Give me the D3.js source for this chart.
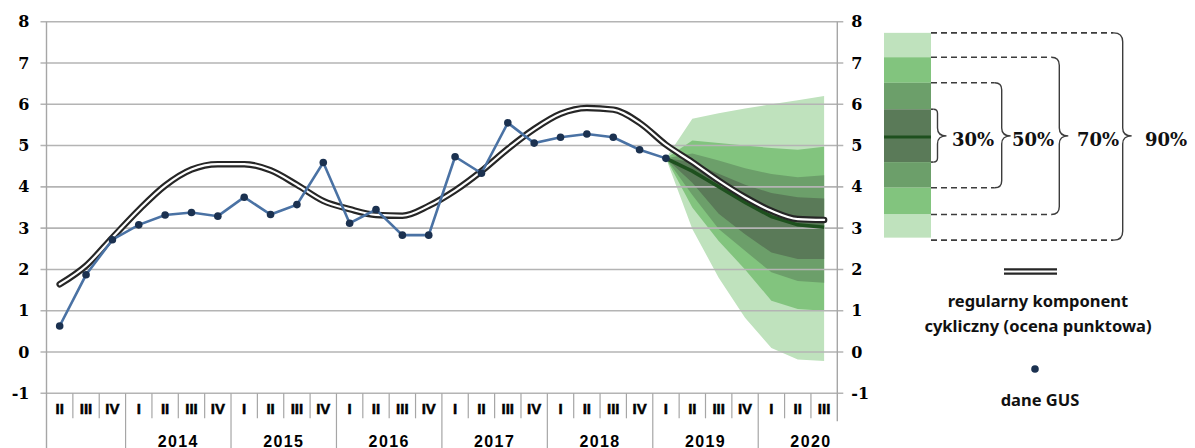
<!DOCTYPE html>
<html>
<head>
<meta charset="utf-8">
<script src="https://cdnjs.cloudflare.com/ajax/libs/d3/7.8.5/d3.min.js"></script>
<style>
body { margin: 0; background: #fff; }
svg { display: block; }
</style>
</head>
<body>
<script>
// quarters from 2013 Q2 to 2020 Q3
var quarters = ['II','III','IV',
  'I','II','III','IV', 'I','II','III','IV', 'I','II','III','IV',
  'I','II','III','IV', 'I','II','III','IV', 'I','II','III','IV',
  'I','II','III'];
var years = ['2014','2015','2016','2017','2018','2019','2020'];
var yearStart = [3, 7, 11, 15, 19, 23, 27];

// dane GUS
var gus = [0.63, 1.87, 2.72, 3.08, 3.32, 3.38, 3.29, 3.75, 3.33, 3.57, 4.59,
  3.12, 3.45, 2.83, 2.83, 4.73, 4.33, 5.55, 5.06, 5.20, 5.28, 5.20, 4.90, 4.69];

// regularny komponent cykliczny
var cycle = [1.64, 2.09, 2.77, 3.44, 4.03, 4.42, 4.55, 4.55, 4.40, 4.05, 3.66,
  3.46, 3.32, 3.30, 3.54, 3.91, 4.38, 4.92, 5.40, 5.77, 5.91, 5.87, 5.55,
  5.02, 4.60, 4.15, 3.75, 3.42, 3.22, 3.20];

// fan chart, from 2019 Q1
var fanFirst = 23;
var centre = [4.69, 4.38, 4.00, 3.62, 3.28, 3.08, 3.02];
var lo90 = [4.69, 2.98, 1.80, 0.83, 0.10, -0.18, -0.22];
var hi90 = [4.69, 5.65, 5.78, 5.90, 6.00, 6.10, 6.20];
var lo70 = [4.69, 3.50, 2.69, 2.00, 1.24, 1.04, 1.00];
var hi70 = [4.69, 5.12, 5.06, 5.00, 4.94, 4.90, 4.97];
var lo50 = [4.69, 3.80, 2.98, 2.45, 1.93, 1.72, 1.68];
var hi50 = [4.69, 4.81, 4.64, 4.45, 4.31, 4.23, 4.28];
var lo30 = [4.69, 4.10, 3.35, 2.85, 2.41, 2.25, 2.25];
var hi30 = [4.69, 4.60, 4.32, 4.05, 3.85, 3.75, 3.72];

// legend block, drawn on the same value scale
var legendEdges = [7.73, 7.14, 6.52, 5.88, 4.60, 3.98, 3.33, 2.77];
var legendCentre = 5.21;
var bandNames = ['30%', '50%', '70%', '90%'];

var colors = {c90: '#bfe2bd', c70: '#82c47e', c50: '#6c9f6a', c30: '#5a7a58', centre: '#1e501e'};

var width = 1195, height = 448;
var plotLeft = 46.5, plotRight = 837.3, plotTop = 21.7, plotBottom = 393.3;

var svg = d3.select('body').append('svg')
            .attr('width', width)
            .attr('height', height)
            .style('font-family', 'DejaVu Serif');

var x = d3.scaleBand().domain(d3.range(quarters.length)).range([plotLeft, plotRight]);
var xc = i => x(i) + x.bandwidth() / 2;
var y = d3.scaleLinear().domain([-1, 8]).range([plotBottom, plotTop]);

// fan
var fanIdx = d3.range(centre.length);
function band(lo, hi, col) {
  var area = d3.area()
    .x(i => xc(fanFirst + i))
    .y0(i => y(lo[i]))
    .y1(i => y(hi[i]));
  svg.append('path').datum(fanIdx).attr('d', area).attr('fill', col);
}
band(lo90, hi90, colors.c90);
band(lo70, hi70, colors.c70);
band(lo50, hi50, colors.c50);
band(lo30, hi30, colors.c30);

// gridlines and axes
svg.append('g').selectAll('line').data(y.ticks(9)).enter().append('line')
   .attr('x1', plotLeft - 6).attr('x2', plotRight + 6)
   .attr('y1', d => y(d)).attr('y2', d => y(d))
   .attr('stroke', '#b4b4b4').attr('stroke-width', 1.6);

var yl = svg.append('g').attr('transform', `translate(${plotLeft},0)`)
            .call(d3.axisLeft(y).ticks(9).tickSize(0).tickPadding(17).tickFormat(d => String(d)));
var yr = svg.append('g').attr('transform', `translate(${plotRight},0)`)
            .call(d3.axisRight(y).ticks(9).tickSize(0).tickPadding(14).tickFormat(d => String(d)));
[yl, yr].forEach(function(g) {
  g.select('.domain').remove();
  g.selectAll('text').attr('font-family', 'DejaVu Serif').attr('font-weight', 'bold')
   .attr('font-size', 16).attr('fill', '#000');
});

svg.append('line').attr('x1', plotLeft).attr('x2', plotLeft).attr('y1', plotTop).attr('y2', height)
   .attr('stroke', '#a6a6a6').attr('stroke-width', 1.4);
svg.append('line').attr('x1', plotRight).attr('x2', plotRight).attr('y1', plotTop).attr('y2', plotBottom + 28)
   .attr('stroke', '#a6a6a6').attr('stroke-width', 1.4);

// category axis
var cat = svg.append('g').attr('font-family', 'Liberation Sans').attr('font-weight', 'bold')
             .attr('fill', '#000');
cat.selectAll('line.q').data(d3.range(1, quarters.length)).enter().append('line')
   .attr('x1', d => x(d)).attr('x2', d => x(d))
   .attr('y1', plotBottom).attr('y2', d => yearStart.indexOf(d) >= 0 ? height : plotBottom + 25)
   .attr('stroke', '#a6a6a6').attr('stroke-width', 1.2);
cat.selectAll('text.q').data(quarters).enter().append('text')
   .attr('x', (d, i) => xc(i)).attr('y', plotBottom + 20.5)
   .attr('text-anchor', 'middle').attr('font-size', 15)
   .attr('stroke', '#000').attr('stroke-width', 0.5).text(d => d);
cat.selectAll('text.y').data(years).enter().append('text')
   .attr('x', (d, i) => x(yearStart[i]) + 2 * x.bandwidth()).attr('y', height - 1.5)
   .attr('text-anchor', 'middle').attr('font-size', 16).attr('letter-spacing', 1.4)
   .text(d => d);

// fan centre line
svg.append('path').datum(fanIdx)
   .attr('d', d3.line().x(i => xc(fanFirst + i)).y(i => y(centre[i])))
   .attr('fill', 'none').attr('stroke', colors.centre).attr('stroke-width', 3.5);

// cyclical component: double line
var cycleLine = d3.line().x((d, i) => xc(i)).y(d => y(d)).curve(d3.curveMonotoneX);
svg.append('path').datum(cycle).attr('d', cycleLine)
   .attr('fill', 'none').attr('stroke', '#262626').attr('stroke-width', 6.5)
   .attr('stroke-linecap', 'round');
svg.append('path').datum(cycle).attr('d', cycleLine)
   .attr('fill', 'none').attr('stroke', '#fff').attr('stroke-width', 2.2)
   .attr('stroke-linecap', 'round');

// GUS data
svg.append('path').datum(gus)
   .attr('d', d3.line().x((d, i) => xc(i)).y(d => y(d)))
   .attr('fill', 'none').attr('stroke', '#4a72a4').attr('stroke-width', 2.6);
svg.append('g').selectAll('circle').data(gus).enter().append('circle')
   .attr('cx', (d, i) => xc(i)).attr('cy', d => y(d)).attr('r', 3.8)
   .attr('fill', '#1b3150');

// legend block
var lx0 = 884, lx1 = 931;
var blocks = [
  [legendEdges[0], legendEdges[1], colors.c90],
  [legendEdges[1], legendEdges[2], colors.c70],
  [legendEdges[2], legendEdges[3], colors.c50],
  [legendEdges[3], legendEdges[4], colors.c30],
  [legendEdges[4], legendEdges[5], colors.c50],
  [legendEdges[5], legendEdges[6], colors.c70],
  [legendEdges[6], legendEdges[7], colors.c90]
];
svg.append('g').selectAll('rect').data(blocks).enter().append('rect')
   .attr('x', lx0).attr('width', lx1 - lx0)
   .attr('y', d => y(d[0])).attr('height', d => y(d[1]) - y(d[0]))
   .attr('fill', d => d[2]);
svg.append('line').attr('x1', lx0).attr('x2', lx1)
   .attr('y1', y(legendCentre)).attr('y2', y(legendCentre))
   .attr('stroke', colors.centre).attr('stroke-width', 3);

// braces
var braceX = [937.5, 1001.7, 1059.3, 1122.7];
var braceR = [4, 7, 8, 9];
var textX = [952, 1012, 1077, 1145];
var braceTop = [legendEdges[3], legendEdges[2], legendEdges[1], legendEdges[0]];
var braceBot = [legendEdges[4], legendEdges[5], legendEdges[6], legendEdges[7]];
var mid = y(legendCentre) - 1;
bandNames.forEach(function(name, k) {
  var xv = braceX[k], r = braceR[k], t = y(braceTop[k]), b = y(braceBot[k]) + (k == 3 ? 2.5 : 0);
  var tip = xv + 9;
  var p = d3.path();
  p.moveTo(xv - r, t);
  p.quadraticCurveTo(xv, t, xv, t + r);
  p.lineTo(xv, mid - 8);
  p.quadraticCurveTo(xv, mid, tip, mid);
  p.quadraticCurveTo(xv, mid, xv, mid + 8);
  p.lineTo(xv, b - r);
  p.quadraticCurveTo(xv, b, xv - r, b);
  svg.append('path').attr('d', p.toString())
     .attr('fill', 'none').attr('stroke', '#3c3c3c').attr('stroke-width', 1.4);
  [t, b].forEach(function(yy) {
    svg.append('line').attr('x1', lx1).attr('x2', xv - r).attr('y1', yy).attr('y2', yy)
       .attr('stroke', '#3c3c3c').attr('stroke-width', 1.6)
       .attr('stroke-dasharray', k == 0 ? null : '6,4');
  });
  svg.append('text').attr('x', textX[k]).attr('y', mid + 10)
     .attr('font-family', 'DejaVu Serif').attr('font-weight', 'bold').attr('font-size', 18)
     .attr('fill', '#111').text(name);
});

// legend: lines
var lg = svg.append('g').attr('font-family', 'Noto Sans').attr('font-weight', 'bold')
            .attr('font-size', 16.5).attr('text-anchor', 'middle').attr('fill', '#111');
lg.append('line').attr('x1', 1004).attr('x2', 1057).attr('y1', 271.5).attr('y2', 271.5)
  .attr('stroke', '#262626').attr('stroke-width', 6.5);
lg.append('line').attr('x1', 1004).attr('x2', 1057).attr('y1', 271.5).attr('y2', 271.5)
  .attr('stroke', '#fff').attr('stroke-width', 2.2);
lg.append('text').attr('x', 1038).attr('y', 307).text('regularny komponent');
lg.append('text').attr('x', 1038).attr('y', 332).text('cykliczny (ocena punktowa)');
lg.append('circle').attr('cx', 1035).attr('cy', 369).attr('r', 3.8).attr('fill', '#1b3150');
lg.append('text').attr('x', 1040).attr('y', 406).text('dane GUS');
</script>
</body>
</html>
